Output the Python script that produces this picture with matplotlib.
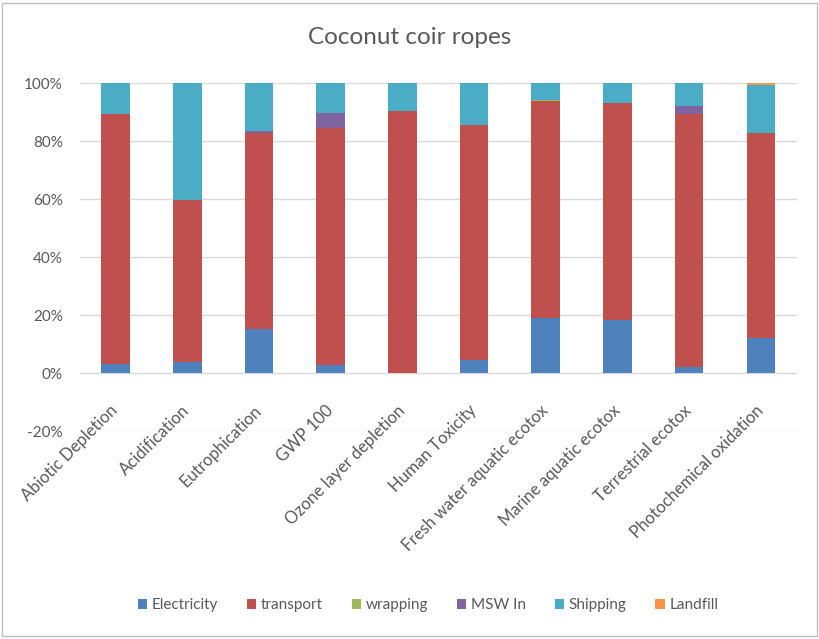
import matplotlib
matplotlib.use("Agg")
import matplotlib.pyplot as plt
from matplotlib.patches import Rectangle
from matplotlib.ticker import FuncFormatter
import numpy as np

categories = ["Abiotic Depletion", "Acidification", "Eutrophication", "GWP 100",
              "Ozone layer depletion", "Human Toxicity", "Fresh water aquatic ecotox",
              "Marine aquatic ecotox", "Terrestrial ecotox", "Photochemical oxidation"]

electricity = [3.2, 3.7, 15.3, 2.8, 0.0, 4.6, 19.0, 18.2, 1.9, 12.1]
transport   = [86.1, 55.9, 67.6, 81.8, 90.5, 80.9, 74.8, 74.8, 87.3, 70.6]
wrapping    = [0.0, 0.0, 0.0, 0.0, 0.0, 0.0, 0.4, 0.0, 0.0, 0.0]
msw_in      = [0.0, 0.0, 0.7, 5.0, 0.0, 0.0, 0.0, 0.0, 2.9, 0.0]
shipping    = [10.7, 40.4, 16.4, 10.4, 9.5, 14.5, 5.8, 7.0, 7.9, 16.7]
landfill    = [0.0, 0.0, 0.0, 0.0, 0.0, 0.0, 0.0, 0.0, 0.0, 0.6]

series = [
    ("Electricity", electricity, "#4F81BD"),
    ("transport", transport, "#C0504D"),
    ("wrapping", wrapping, "#9BBB59"),
    ("MSW In", msw_in, "#8064A2"),
    ("Shipping", shipping, "#4BACC6"),
    ("Landfill", landfill, "#F79646"),
]

plt.rcParams["font.family"] = ["Lato", "DejaVu Sans"]
text_color = "#595959"

fig = plt.figure(figsize=(8.2, 6.39), dpi=100)
ax = fig.add_axes([0.0971, 0.3255, 0.8745, 0.5446])

x = np.arange(len(categories))
bottom = np.zeros(len(categories))
for name, vals, color in series:
    vals = np.array(vals, dtype=float)
    ax.bar(x, vals, width=0.40, bottom=bottom, color=color, label=name, zorder=3)
    bottom += vals

ax.set_xlim(-0.5, len(categories) - 0.5)
ax.set_ylim(-20, 100)
ax.set_yticks(np.arange(-20, 101, 20))
ax.yaxis.set_major_formatter(FuncFormatter(lambda v, p: f"{v:.0f}%"))
ax.grid(axis="y", color="#d9d9d9", linewidth=1.0, zorder=0)

for side in ["top", "right", "left", "bottom"]:
    ax.spines[side].set_visible(False)
ax.spines["bottom"].set_position(("data", 0))

ax.tick_params(axis="y", length=0, pad=12, labelsize=11, labelcolor=text_color)
ax.tick_params(axis="x", length=0, pad=25, labelsize=12, labelcolor=text_color)
ax.set_xticks(x)
ax.set_xticklabels(categories, rotation=45, ha="right", va="center",
                   rotation_mode="anchor")

fig.suptitle("Coconut coir ropes", y=0.957, fontsize=17.5, color=text_color)

fig.legend(loc="center", bbox_to_anchor=(0.522, 0.053), ncol=6, frameon=False,
           fontsize=11, labelcolor=text_color, handlelength=0.6, handleheight=0.6,
           handletextpad=0.3, columnspacing=1.9)

fig.patches.append(Rectangle((0.003, 0.004), 0.993, 0.992, transform=fig.transFigure,
                             fill=False, edgecolor="#bfbfbf", linewidth=1.0))

fig.savefig("out.png", dpi=100)
